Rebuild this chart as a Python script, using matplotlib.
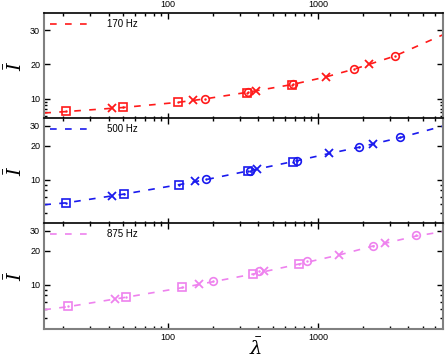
import matplotlib
matplotlib.use("Agg")
import matplotlib.pyplot as plt
from matplotlib.ticker import FixedLocator, NullFormatter, LogLocator, FixedFormatter

plt.rcParams['font.family'] = ['Liberation Sans', 'DejaVu Sans']
plt.rcParams['mathtext.fontset'] = 'dejavuserif'

labels = ["170 Hz", "500 Hz", "875 Hz"]
colors = ["#ff1a1a", "#1a1aee", "#ee82ee"]

# Panel 1 (170 Hz)
sq1_x = [20.7, 50.1, 116.6, 333, 670]
sq1_y = [6.26, 7.53, 8.9, 11.76, 14.1]
cr1_x = [175.7, 340, 685, 1742, 3238]
cr1_y = [9.88, 11.9, 14.2, 18.6, 22.4]
xx1_x = [42.0, 145.5, 383, 1121, 2178]
xx1_y = [7.24, 9.5, 12.2, 16.35, 20.1]
fit1_x = [14.9, 20.7, 50, 116, 175, 333, 670, 1120, 1740, 3240, 6780]
fit1_y = [5.8, 6.2, 7.4, 8.9, 9.9, 11.8, 14.1, 16.3, 18.6, 22.4, 28.6]

# Panel 2 (500 Hz)
sq2_x = [20.8, 50.6, 117.8, 340, 680]
sq2_y = [6.17, 7.49, 9.02, 11.87, 14.4]
cr2_x = [180, 350, 724, 1862, 3540]
cr2_y = [10.1, 12.0, 14.7, 19.4, 23.8]
xx2_x = [42.4, 152, 392, 1177, 2320]
xx2_y = [7.08, 9.65, 12.4, 17.1, 20.7]
fit2_x = [14.9, 20.8, 50, 118, 180, 340, 690, 1180, 1860, 3540, 6780]
fit2_y = [5.97, 6.2, 7.4, 9.0, 10.0, 11.9, 14.5, 17.0, 19.3, 23.6, 29.8]

# Panel 3 (875 Hz)
sq3_x = [21.4, 52.2, 122.8, 368, 745]
sq3_y = [6.38, 7.73, 9.41, 12.4, 15.2]
cr3_x = [199.5, 402, 845, 2330, 4530]
cr3_y = [10.8, 13.2, 16.2, 22.0, 27.5]
xx3_x = [44.1, 161, 434, 1380, 2800]
xx3_y = [7.43, 10.1, 13.2, 18.3, 23.3]
fit3_x = [14.9, 21.4, 52, 123, 200, 370, 745, 1380, 2330, 4530, 6780]
fit3_y = [5.97, 6.35, 7.7, 9.35, 10.6, 12.4, 15.2, 18.3, 22.0, 27.0, 29.5]

panels = [
    (sq1_x, sq1_y, cr1_x, cr1_y, xx1_x, xx1_y, fit1_x, fit1_y),
    (sq2_x, sq2_y, cr2_x, cr2_y, xx2_x, xx2_y, fit2_x, fit2_y),
    (sq3_x, sq3_y, cr3_x, cr3_y, xx3_x, xx3_y, fit3_x, fit3_y),
]
ytick_vals = [10, 20, 30]
ytick_labels = ["10", "20", "30"]
xtick_vals = [100, 1000]
xtick_labels = ["100", "1000"]

fig = plt.figure(figsize=(4.47, 3.62), dpi=100)
L, R = 44.3 / 447, 442.7 / 447
tops = [13.3, 118.3, 223.3]
H = 105.5
gray = "#808080"
for i, (sx, sy, cx, cy, xx, xy, fx, fy) in enumerate(panels):
    top = tops[i]
    ax = fig.add_axes([L, 1 - (top + H) / 362, R - L, H / 362])
    c = colors[i]
    ax.plot(fx, fy, color=c, lw=1.2, dashes=(4, 5), label=labels[i])
    ax.plot(sx, sy, ls='none', marker='s', ms=6, mfc='none', mec=c, mew=1.2)
    ax.plot(cx, cy, ls='none', marker='o', ms=5.5, mfc='none', mec=c, mew=1.2)
    ax.plot(sx + cx, sy + cy, ls='none', marker='.', ms=1.5, color=c)
    ax.plot(xx, xy, ls='none', marker='x', ms=6, mec=c, mew=1.3)
    ax.set_xscale('log')
    ax.set_xlim(14.9, 6780)
    if i == 0:
        ax.set_ylim(4.1, 34.9)
    else:
        ax.set_yscale('log')
        ax.set_ylim(4.04, 35.0)
    ax.yaxis.set_major_locator(FixedLocator(ytick_vals))
    ax.yaxis.set_major_formatter(FixedFormatter(ytick_labels))
    ax.yaxis.set_minor_locator(FixedLocator([5, 6, 7, 8, 9]))
    ax.yaxis.set_minor_formatter(NullFormatter())
    ax.xaxis.set_major_locator(FixedLocator(xtick_vals))
    ax.xaxis.set_major_formatter(FixedFormatter(xtick_labels))
    ax.xaxis.set_minor_locator(LogLocator(base=10, subs=range(2, 10)))
    ax.xaxis.set_minor_formatter(NullFormatter())
    ax.tick_params(which='both', direction='in', top=True, right=True,
                   labelsize=6.5, color='black', width=1.0)
    ax.tick_params(which='major', length=4, pad=3)
    ax.tick_params(which='minor', length=2.5)
    if i == 0:
        ax.tick_params(axis='x', labeltop=True, labelbottom=False)
    elif i == 1:
        ax.tick_params(axis='x', labelbottom=False)
    for s in ['left', 'right', 'bottom']:
        ax.spines[s].set_color(gray)
        ax.spines[s].set_linewidth(1.5)
    ax.spines['top'].set_color('black')
    ax.spines['top'].set_linewidth(1.2)
    ax.set_ylabel(r'$\bar{I}$', fontsize=14)
    ax.yaxis.set_label_coords(-0.045, 0.5)
    ax.legend(loc='upper left', frameon=False, fontsize=7, handlelength=4.5,
              handletextpad=1.4, borderaxespad=0.3, borderpad=0.3)
    if i == 2:
        ax.set_xlabel(r'$\bar{\lambda}$', fontsize=14)
        ax.xaxis.set_label_coords(0.53, -0.085)

fig.savefig("out.png", dpi=100)
